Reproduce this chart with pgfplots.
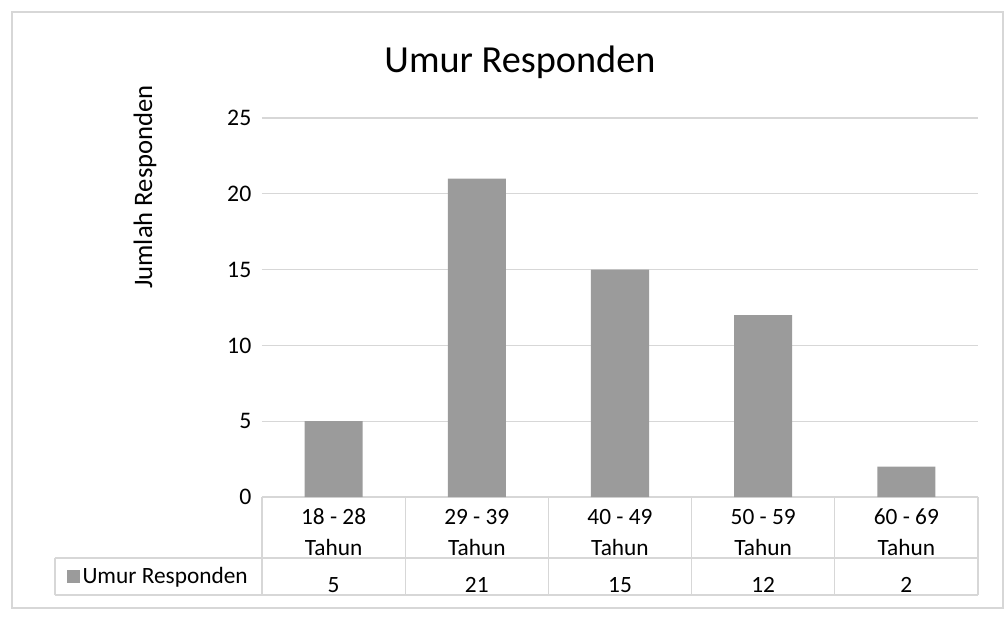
\documentclass[border=0pt]{standalone}
\usepackage{fontspec}
\setmainfont{Carlito}
\usepackage{pgfplots}
\usepackage{pgfplotstable}
\pgfplotsset{compat=1.18}
\definecolor{barc}{RGB}{155,155,155}
\definecolor{gridc}{RGB}{215,215,215}
\pgfplotstableread{
x value
0 5
1 21
2 15
3 12
4 2
}\data
\begin{document}
\begin{tikzpicture}
\begin{axis}[
  scale only axis, width=537pt, height=284.25pt,
  xmin=-0.5, xmax=4.5, ymin=0, ymax=25,
  ytick={0,5,...,25}, xtick={0,...,4},
  xticklabels={{\strut 18 - 28\\\strut Tahun},{\strut 29 - 39\\\strut Tahun},{\strut 40 - 49\\\strut Tahun},{\strut 50 - 59\\\strut Tahun},{\strut 60 - 69\\\strut Tahun}},
  xticklabel style={align=center, anchor=center, yshift=-27.5pt, inner sep=0pt, font=\fontsize{17.5}{23}\selectfont},
  yticklabel style={font=\fontsize{17.8}{21}\selectfont, xshift=-4.5pt},
  /pgf/number format/assume math mode=true,
  axis line style={draw=none}, major tick length=0pt,
  ymajorgrids, grid style={gridc, line width=0.8pt},
  clip=false,
  title={Umur Responden},
  title style={font=\fontsize{28.7}{34}\selectfont, at={(axis description cs:0.3603,1.1266)}, anchor=center},
  ylabel={Jumlah Responden},
  ylabel style={font=\fontsize{20}{24}\selectfont, at={(axis description cs:-0.1634,0.818)}, anchor=center},
  legend style={draw=none, fill=none, at={(axis description cs:-0.1446,-0.2098)}, anchor=center, font=\fontsize{17.5}{21}\selectfont, inner sep=0pt},
  legend cell align=left,
]
\addplot[ybar, bar width=43.5pt, fill=barc, draw=none,
  legend image code/.code={\fill[barc] (-3pt,-5pt) rectangle (7pt,5pt);}]
  table[x=x, y=value]{\data};
\addlegendentry{Umur Responden}
\addplot[draw=none, forget plot, nodes near coords, point meta=explicit,
  every node near coord/.append style={anchor=base, yshift=-71.5pt, inner sep=0pt, font=\fontsize{17.5}{21}\selectfont}]
  table[x=x, y expr=0, meta=value]{\data};
\end{axis}
\begin{scope}[gridc, line width=0.8pt]
\foreach \xx in {0,107.4,214.8,322.2,429.6,537}
  \draw (\xx pt,0pt) -- (\xx pt,-73.5pt);
\draw (-155.25pt,-45.75pt) -- (537pt,-45.75pt);
\draw (-155.25pt,-73.5pt) -- (537pt,-73.5pt);
\draw (-155.25pt,-45.75pt) -- (-155.25pt,-73.5pt);
\draw (-187.5pt,-83.25pt) rectangle (555.75pt,363.75pt);
\end{scope}
\useasboundingbox (-196.5pt,-98.25pt) rectangle (558pt,372.75pt);
\end{tikzpicture}
\end{document}
